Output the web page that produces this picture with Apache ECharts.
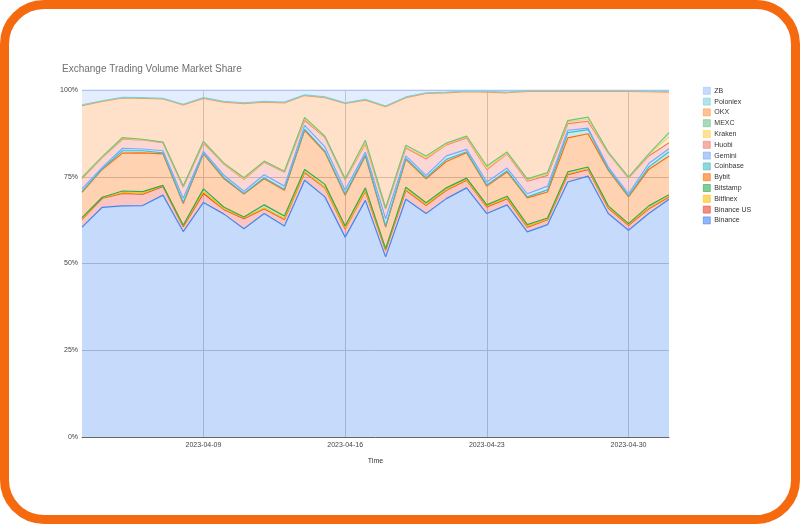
<!DOCTYPE html>
<html>
<head>
<meta charset="utf-8">
<script src="https://cdn.jsdelivr.net/npm/echarts@6/dist/echarts.min.js"></script>
<style>
html,body{margin:0;padding:0;background:#fff;}
#frame{position:absolute;left:0;top:0;width:800px;height:524px;box-sizing:border-box;border:9px solid #f5690f;border-radius:44px;}
#chart{position:absolute;left:0;top:0;width:800px;height:524px;}
</style>
</head>
<body>
<div id="frame"></div>
<div id="chart"></div>
<script>
const dates = ['2023-04-03','2023-04-04','2023-04-05','2023-04-06','2023-04-07','2023-04-08','2023-04-09','2023-04-10','2023-04-11','2023-04-12','2023-04-13','2023-04-14','2023-04-15','2023-04-16','2023-04-17','2023-04-18','2023-04-19','2023-04-20','2023-04-21','2023-04-22','2023-04-23','2023-04-24','2023-04-25','2023-04-26','2023-04-27','2023-04-28','2023-04-29','2023-04-30','2023-05-01','2023-05-02'];
const xTickLabels = ['2023-04-09','2023-04-16','2023-04-23','2023-04-30'];
const yTickLabels = ['0%','25%','50%','75%','100%'];

const binance   = [60.5,66.2,66.6,66.7,69.7,59.2,67.6,64.3,60.0,64.4,60.8,74.0,69.2,57.6,68.2,51.9,68.5,64.4,68.7,71.8,64.4,66.9,59.1,61.2,73.5,75.2,64.4,59.6,64.4,68.5];
const binanceUS = [2.2,2.6,3.6,3.3,2.5,1.4,2.6,1.3,2.9,1.4,1.9,2.2,2.6,2.4,2.6,1.9,2.6,2.4,2.4,2.2,1.9,1.8,1.4,1.4,2.1,1.9,1.6,1.4,1.4,0.7];
const bitfinex  = [0.2,0.2,0.2,0.2,0.2,0.2,0.5,0.2,0.2,0.2,0.2,0.2,0.2,0.2,0.2,0.2,0.2,0.2,0.2,0.2,0.2,0.2,0.2,0.2,0.2,0.2,0.2,0.2,0.2,0.2];
const bitstamp  = [0.3,0.1,0.5,0.5,0.1,0.2,0.8,0.5,0.3,0.9,0.8,0.7,0.8,0.6,0.8,0.3,0.7,0.5,0.5,0.4,0.4,0.5,0.5,0.3,0.6,0.5,0.4,0.3,0.6,0.4];
const bybit     = [7.3,8.0,10.9,11.2,9.1,6.3,10.1,8.2,6.6,7.5,7.4,11.3,9.3,8.9,9.2,6.2,8.0,6.9,7.6,7.3,5.4,7.0,7.7,7.5,9.8,9.6,10.3,7.7,10.5,11.2];
const coinbase  = [0.3,0.2,0.7,0.6,0.3,0.3,0.2,0.3,0.2,0.3,0.3,0.3,0.3,0.3,0.3,0.3,0.3,0.3,0.6,0.3,0.3,0.3,0.3,0.6,1.5,1.2,0.3,0.3,0.7,1.2];
const gemini    = [0.7,0.4,0.7,0.5,0.6,1.2,0.5,0.7,0.6,0.9,0.9,1.1,1.2,1.1,0.8,2.1,0.7,0.7,1.0,0.7,0.9,0.8,0.9,1.1,0.7,0.4,0.6,0.6,1.0,0.9];
const huobi     = [3.0,2.8,2.6,2.6,2.3,3.2,2.4,3.2,3.5,3.6,4.0,1.5,2.8,3.0,2.4,2.8,2.3,4.8,3.2,3.3,3.6,4.1,3.6,3.1,1.9,2.0,4.0,4.5,2.2,1.7];
const kraken    = [0.1,0.1,0.2,0.1,0.1,0.1,0.2,0.1,0.1,0.1,0.1,0.3,0.1,0.1,0.3,0.1,0.3,0.3,0.2,0.2,0.3,0.2,0.4,0.4,0.5,0.5,0.1,0.1,0.3,1.7];
const mexc      = [0.2,0.2,0.3,0.1,0.1,0.2,0.3,0.2,0.3,0.2,0.2,0.5,0.2,0.2,0.7,0.2,0.5,0.5,0.3,0.3,0.7,0.3,0.3,0.4,0.4,0.7,0.2,0.2,0.3,1.2];
const okx       = [20.7,15.9,11.4,11.8,12.4,23.4,12.4,17.5,21.4,17.0,19.7,6.3,11.1,21.7,11.6,29.2,13.7,18.0,14.5,12.8,21.3,17.1,25.2,23.4,8.4,7.4,17.5,24.7,17.9,11.7];
const poloniex  = [0.2,0.2,0.2,0.2,0.2,0.2,0.2,0.2,0.2,0.2,0.2,0.2,0.2,0.2,0.2,0.2,0.2,0.2,0.2,0.2,0.2,0.2,0.2,0.2,0.2,0.2,0.2,0.2,0.2,0.2];
const zb        = [4.3,3.1,2.1,2.2,2.4,4.1,2.2,3.3,3.7,3.3,3.5,1.4,2.0,3.7,2.7,4.6,2.0,0.8,0.6,0.3,0.4,0.6,0.2,0.2,0.2,0.2,0.2,0.2,0.3,0.4];

const seriesNames = ['Binance','Binance US','Bitfinex','Bitstamp','Bybit','Coinbase','Gemini','Huobi','Kraken','MEXC','OKX','Poloniex','ZB'];
const seriesData = [binance,binanceUS,bitfinex,bitstamp,bybit,coinbase,gemini,huobi,kraken,mexc,okx,poloniex,zb];
const colors = ['#4285f4','#ea4335','#fbbc04','#34a853','#ff6d01','#46bdc6','#7baaf7','#f07b72','#fcd04f','#71c287','#ff994d','#7ed1d7','#a1c2fa'];

function hexA(h,a){const r=parseInt(h.slice(1,3),16),g=parseInt(h.slice(3,5),16),b=parseInt(h.slice(5,7),16);return 'rgba('+r+','+g+','+b+','+a+')';}

const tickIdx = xTickLabels.map(d => dates.indexOf(d));

const chart = echarts.init(document.getElementById('chart'), null, {renderer:'canvas'});
chart.setOption({
  animation:false,
  backgroundColor:'transparent',
  title:{text:'Exchange Trading Volume Market Share',left:57,top:59,textStyle:{fontFamily:'Liberation Sans, Arial, sans-serif',fontSize:10,fontWeight:'normal',color:'#6f6f6f'}},
  legend:{
    orient:'vertical',left:698,top:82,itemWidth:7,itemHeight:7,itemGap:3.2,
    data: seriesNames.slice().reverse().map((n)=>({name:n,icon:'rect',itemStyle:{color:hexA(colors[seriesNames.indexOf(n)],0.6),borderColor:colors[seriesNames.indexOf(n)],borderWidth:0.6}})),
    textStyle:{fontFamily:'Liberation Sans, Arial, sans-serif',fontSize:7,lineHeight:7,color:'#333',padding:[0,0,0,-1]}
  },
  grid:{left:82,right:131,top:90,bottom:87,containLabel:false},
  xAxis:{
    type:'category',data:dates,boundaryGap:false,
    name:'Time',nameLocation:'middle',nameGap:21,
    nameTextStyle:{fontFamily:'Liberation Sans, Arial, sans-serif',fontSize:7,color:'#333'},
    axisLine:{show:true,lineStyle:{color:'#666',width:1}},
    axisTick:{show:false},
    axisLabel:{interval:(i)=>tickIdx.indexOf(i)>=0,formatter:(v)=>v,fontFamily:'Liberation Sans, Arial, sans-serif',fontSize:7,color:'#444',margin:5},
    splitLine:{show:true,interval:(i)=>tickIdx.indexOf(i)>=0,lineStyle:{color:'#c8c8c8',width:1}}
  },
  yAxis:{
    type:'value',min:0,max:100,interval:25,
    axisLine:{show:false},axisTick:{show:false},
    axisLabel:{formatter:(v)=>yTickLabels[v/25],fontFamily:'Liberation Sans, Arial, sans-serif',fontSize:7,color:'#444',margin:4},
    splitLine:{show:true,lineStyle:{color:'#c8c8c8',width:1}}
  },
  series: seriesNames.map((n,i)=>({
    name:n,type:'line',stack:'total',data:seriesData[i],
    symbol:'none',smooth:false,
    lineStyle:{color:colors[i],width:1.2},
    itemStyle:{color:colors[i]},
    areaStyle:{color:colors[i],opacity:0.3},
    emphasis:{disabled:true}
  }))
});
</script>
</body>
</html>
